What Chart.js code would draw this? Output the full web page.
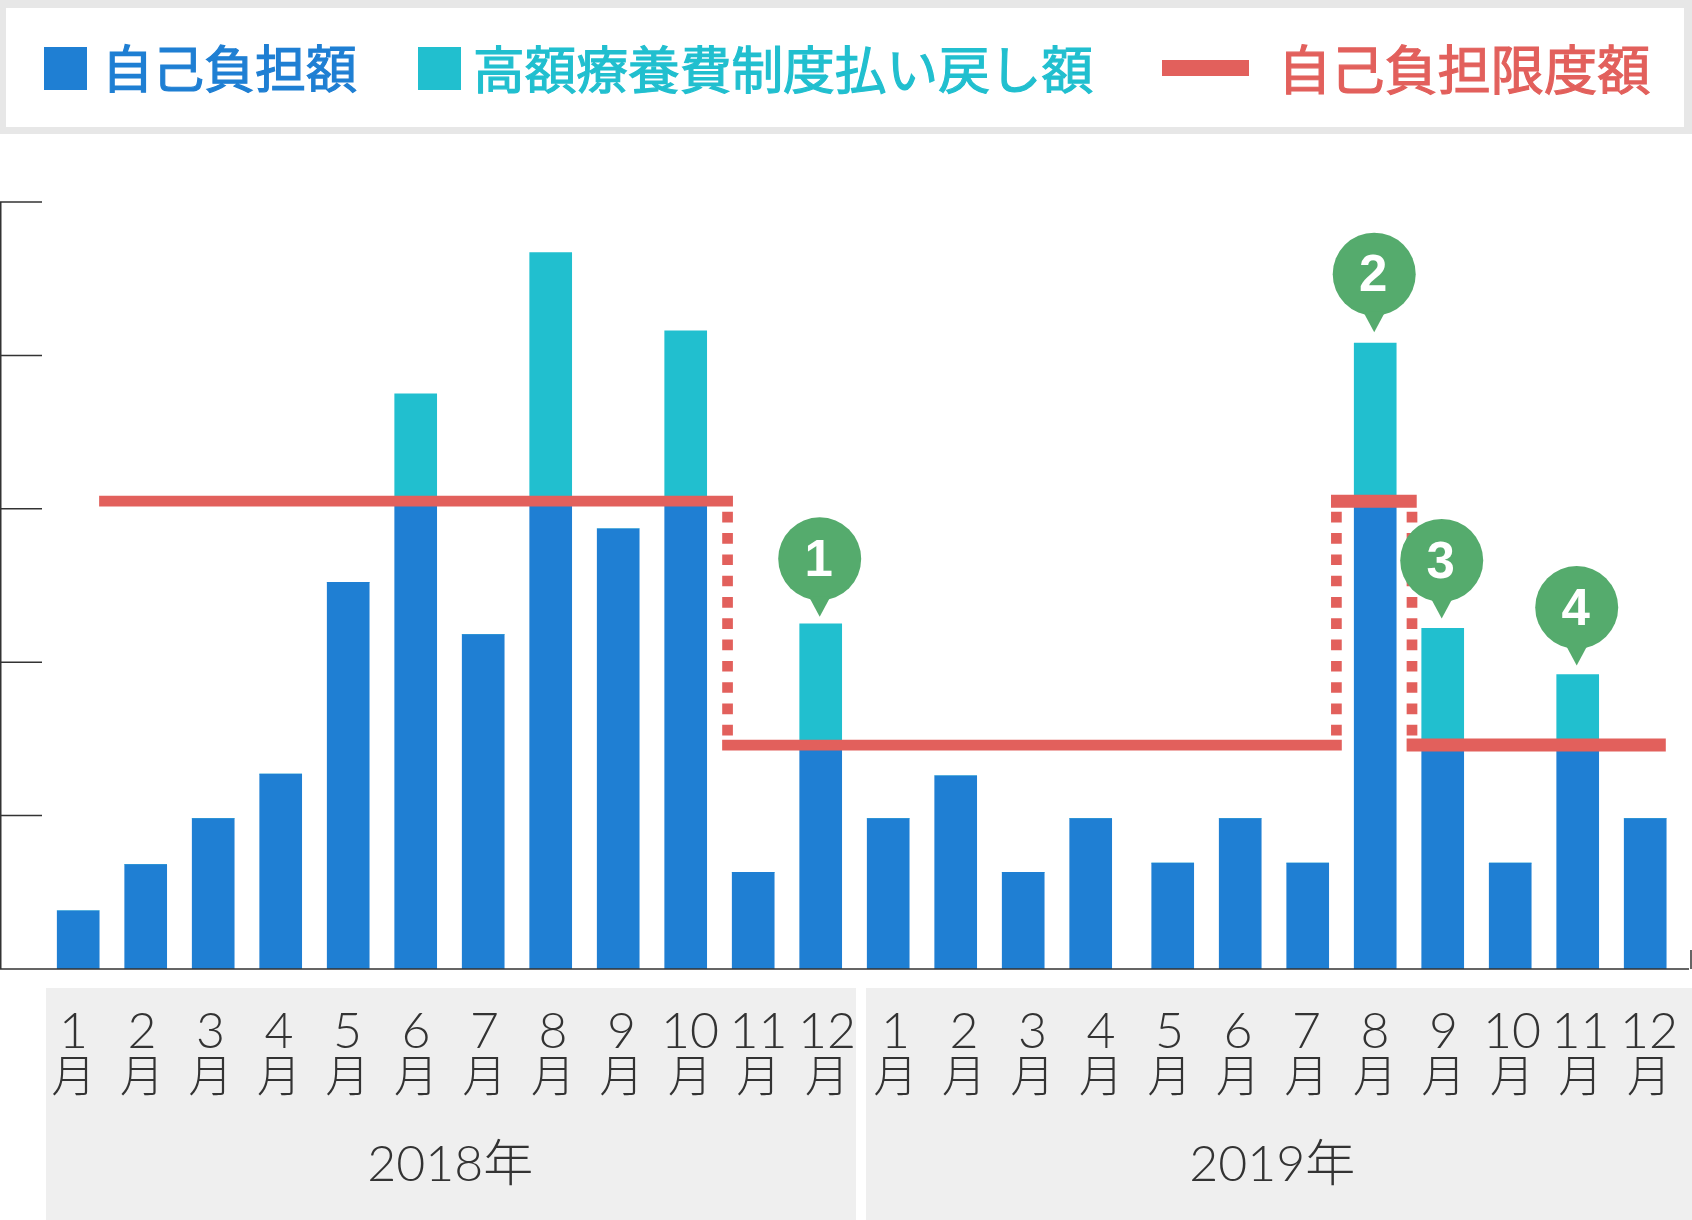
<!DOCTYPE html>
<html lang="ja">
<head>
<meta charset="utf-8">
<title>自己負担額</title>
<script src="https://cdn.jsdelivr.net/npm/chart.js@4"></script>
<style>
  html, body { margin: 0; padding: 0; background: #fff; }
  #wrap { position: relative; width: 1692px; height: 1220px; overflow: hidden; }
  #chart { position: absolute; left: 0; top: 0; }
  #legend {
    position: absolute; left: 0; top: 0; width: 1692px; height: 134px; box-sizing: border-box;
    background: #fff; border: solid #e7e7e7; border-width: 8px 8px 7px 6px;
    font-family: "Noto Sans CJK JP", sans-serif; font-weight: 400;
    -webkit-text-stroke: 1.2px currentColor;
  }
  #legend .sw { position: absolute; }
  #legend .tx { position: absolute; top: 0; line-height: 117px; white-space: nowrap; }
</style>
</head>
<body>
<div id="wrap">
  <canvas id="chart" width="1692" height="1220"></canvas>
  <div id="legend"></div>
</div>
<script>
// Data
const monthDigits = ["1","2","3","4","5","6","7","8","9","10","11","12","1","2","3","4","5","6","7","8","9","10","11","12"];
const monthKanji = monthDigits.map(() => "月");
const years = ["2018年", "2019年"];

const selfPay = [0.38, 0.68, 0.98, 1.27, 2.52, 3.05, 2.18, 3.05, 2.87, 3.05, 0.63, 1.46,
                 0.98, 1.26, 0.63, 0.98, 0.69, 0.98, 0.69, 3.05, 1.46, 0.69, 1.46, 0.98];
const refund = [0, 0, 0, 0, 0, 0.70, 0, 1.62, 0, 1.11, 0, 0.79,
                0, 0, 0, 0, 0, 0, 0, 1.03, 0.76, 0, 0.46, 0];

// limit line: level, and where each run starts and ends on the month scale
const limitLevel = [3.05, 1.46, 3.05, 1.46];
const limitFrom = [0.31, 9.54, 18.56, 19.68];
const limitTo = [9.70, 18.72, 19.83, 23.52];
// dotted drops between levels
const dropAt = [9.62, 18.64, 19.76];

const pinMonths = [11, 19, 20, 22];
const pinLabels = ["1", "2", "3", "4"];

const seriesNames = ["自己負担額", "高額療養費制度払い戻し額", "自己負担限度額"];

const BLUE = "#1f7fd3", TEAL = "#21bfcf", RED = "#e2605c", GREEN = "#55ab6d", INK = "#333333";
const CJK = '"Noto Sans CJK JP", sans-serif';
const DIGITS = 'Lato, "Noto Sans CJK JP", sans-serif';

// the bars leave a small extra gap after April 2019
const barSlot = i => i + (i > 15 ? 0.215 : 0);

// Legend
const legend = document.getElementById("legend");
function addLegend(name, color, swatch, textLeft, size) {
  const s = document.createElement("div");
  s.className = "sw";
  s.style.cssText = `left:${swatch[0] - 6}px;top:${swatch[1] - 8}px;width:${swatch[2]}px;height:${swatch[3]}px;background:${color}`;
  legend.appendChild(s);
  const t = document.createElement("div");
  t.className = "tx";
  t.style.left = (textLeft - 6) + "px";
  t.style.color = color;
  t.style.fontSize = size + "px";
  t.textContent = name;
  legend.appendChild(t);
}
addLegend(seriesNames[0], BLUE, [44, 47, 43, 43], 102, 51);
addLegend(seriesNames[1], TEAL, [418, 47, 43, 43], 473, 51.7);
addLegend(seriesNames[2], RED, [1162, 60, 87, 16], 1278, 53.2);

// Grey panels behind the month labels
const panels = {
  id: "panels",
  beforeDraw(chart) {
    const c = chart.ctx;
    c.save();
    c.fillStyle = "#efefef";
    c.fillRect(46, 988, 810, 232);
    c.fillRect(866, 988, 826, 232);
    c.restore();
  }
};

// Axis line and inward ticks on the left, baseline across the whole width
const axisLines = {
  id: "axisLines",
  afterDatasetsDraw(chart) {
    const c = chart.ctx, y = chart.scales.y;
    const base = y.getPixelForValue(0);
    c.save();
    c.strokeStyle = INK;
    c.lineWidth = 1.5;
    c.beginPath();
    c.moveTo(0.75, y.getPixelForValue(5));
    c.lineTo(0.75, base);
    c.moveTo(0, base);
    c.lineTo(1689, base);
    c.moveTo(1691, base - 19);
    c.lineTo(1691, base);
    y.ticks.forEach((t, i) => {
      if (i === 0) return;
      const py = y.getPixelForTick(i);
      c.moveTo(0, py);
      c.lineTo(42, py);
    });
    c.stroke();
    c.restore();
  }
};

// Numbered green pins above the refund bars
const pinGaps = [7, 11, 10, 9];
const pins = {
  id: "pins",
  afterDraw(chart) {
    const c = chart.ctx, meta = chart.getDatasetMeta(1);
    const r = 41.5;
    pinMonths.forEach((m, i) => {
      const bar = meta.data[m];
      const px = bar.x - 1;
      const tip = bar.y - pinGaps[i], cy = tip - 58;
      c.save();
      c.fillStyle = GREEN;
      c.beginPath();
      c.arc(px, cy, r, 0, Math.PI * 2);
      c.fill();
      c.beginPath();
      c.moveTo(px - 11, cy + r - 4);
      c.lineTo(px + 11, cy + r - 4);
      c.lineTo(px, tip);
      c.closePath();
      c.fill();
      c.fillStyle = "#fff";
      c.font = 'bold 51px "Liberation Sans", sans-serif';
      c.textAlign = "center";
      c.textBaseline = "middle";
      c.fillText(pinLabels[i], px - 1, cy + 3);
      c.restore();
    });
  }
};

function limitRun(i) {
  return {
    type: "line",
    label: seriesNames[2],
    data: [{ x: limitFrom[i], y: limitLevel[i] }, { x: limitTo[i], y: limitLevel[i] }],
    xAxisID: "x",
    borderColor: RED,
    borderWidth: i < 2 ? 10.7 : 13,
    pointRadius: 0,
    order: 0
  };
}

function limitDrop(i) {
  return {
    type: "line",
    label: seriesNames[2],
    data: [{ x: dropAt[i], y: limitLevel[0] }, { x: dropAt[i], y: limitLevel[1] }],
    xAxisID: "x",
    borderColor: RED,
    borderWidth: 10.7,
    borderDash: [10.65, 10.65],
    borderDashOffset: 10.65,
    pointRadius: 0,
    order: 0
  };
}

// fixed band height, and no side padding taken from the plot
function fixedBand(h) {
  return scale => {
    scale.height = h;
    scale.paddingLeft = 0;
    scale.paddingRight = 0;
  };
}

function labelAxis(labels, weight, height, padding, font) {
  return {
    type: "category",
    axis: "x",
    position: "bottom",
    labels: labels,
    offset: true,
    weight: weight,
    afterFit: fixedBand(height),
    border: { display: false },
    grid: { display: false, drawTicks: false },
    ticks: { color: INK, font: font, padding: padding, autoSkip: false, maxRotation: 0, minRotation: 0 }
  };
}

new Chart(document.getElementById("chart"), {
  type: "bar",
  data: {
    datasets: [
      {
        label: seriesNames[0],
        data: selfPay.map((v, i) => ({ x: barSlot(i), y: v })),
        backgroundColor: BLUE,
        stack: "spend",
        barThickness: 42,
        order: 1
      },
      {
        label: seriesNames[1],
        data: refund.map((v, i) => ({ x: barSlot(i), y: v })),
        backgroundColor: TEAL,
        stack: "spend",
        barThickness: 42,
        order: 1
      },
      limitRun(0), limitRun(1), limitRun(2), limitRun(3),
      limitDrop(0), limitDrop(1), limitDrop(2)
    ]
  },
  options: {
    responsive: false,
    animation: false,
    devicePixelRatio: 1,
    layout: { padding: { left: 39.35, right: 8.65, top: 202, bottom: 0 } },
    plugins: { legend: { display: false }, tooltip: { enabled: false } },
    scales: {
      x: { type: "linear", display: false, min: -0.5756, max: 23.78, offset: false },
      y: { type: "linear", display: false, min: 0, max: 5, ticks: { stepSize: 1 } },
      digits: labelAxis(monthDigits, 1, 80, 33, { family: DIGITS, size: 50, weight: 300 }),
      kanji: labelAxis(monthKanji, 2, 60, 0, { family: CJK, size: 44, weight: 300 }),
      year: labelAxis(years, 3, 111, 26, { family: DIGITS, size: 50, weight: 300 })
    }
  },
  plugins: [panels, axisLines, pins]
});
</script>
</body>
</html>
